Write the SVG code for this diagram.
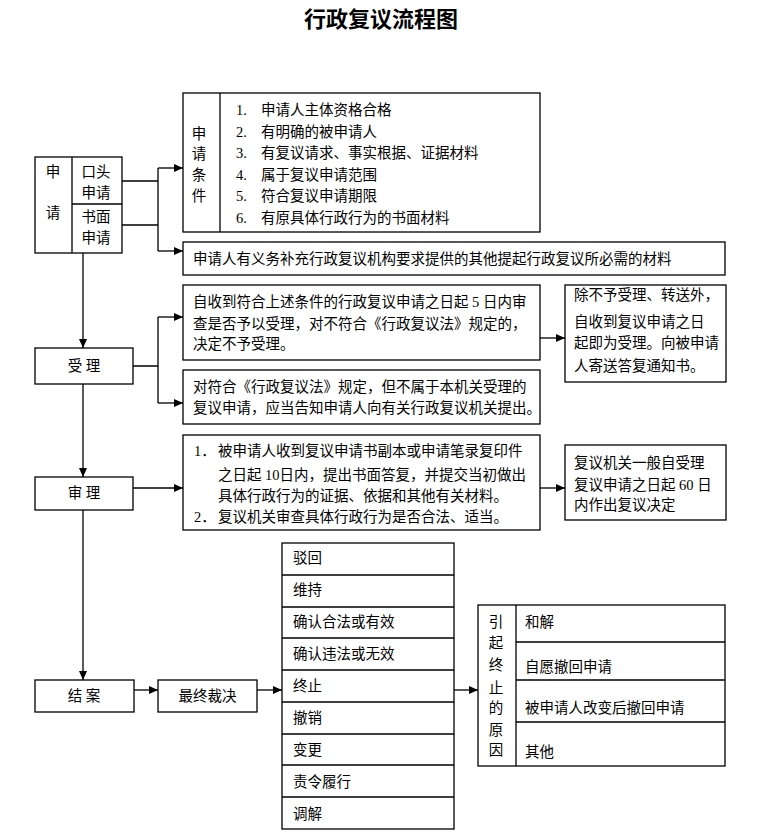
<svg xmlns="http://www.w3.org/2000/svg" width="780" height="832" viewBox="0 0 780 832">
<defs>
<marker id="ah" markerWidth="9" markerHeight="8" refX="9" refY="4" orient="auto" markerUnits="userSpaceOnUse"><path d="M0,0 L9,4 L0,8 z" fill="#000"/></marker>
<style>
rect,.ln{fill:#fff;stroke:#000;stroke-width:1.3}
.ln{fill:none}
.c{fill:none;stroke:#000;stroke-width:1.3}
.a{marker-end:url(#ah)}
text{font-family:"Liberation Serif","Noto Sans CJK SC",sans-serif;font-size:14.5px;fill:#000}
.m{text-anchor:middle}
.t{font-family:"Noto Sans CJK SC",sans-serif;font-size:22px;font-weight:bold}
</style>
</defs>
<text class="t m" x="381" y="27">行政复议流程图</text>

<g id="connectors">
<path class="c" d="M122,181 H158 M122,225 H158 M158,168 V251"/>
<path class="c a" d="M158,168 H183"/>
<path class="c a" d="M158,251 H183"/>
<path class="c a" d="M83,253 V348"/>
<path class="c" d="M133,366 H158 M158,317 V403"/>
<path class="c a" d="M158,317 H183"/>
<path class="c a" d="M158,403 H183"/>
<path class="c a" d="M540,338 H565"/>
<path class="c a" d="M83,384 V477"/>
<path class="c a" d="M133,488 H183"/>
<path class="c a" d="M540,488 H565"/>
<path class="c a" d="M83,510 V680"/>
<path class="c a" d="M134,690 H158"/>
<path class="c a" d="M257,690 H282"/>
<path class="c a" d="M454,690 H478"/>
</g>

<g id="apply">
<rect x="35" y="157" width="87" height="96"/>
<path class="ln" d="M72,157 V253 M72,204 H122"/>
<text class="m" x="53" y="177">申</text>
<text class="m" x="53" y="218">请</text>
<text class="m" x="96" y="177">口头</text>
<text class="m" x="96" y="198">申请</text>
<text class="m" x="96" y="222">书面</text>
<text class="m" x="96" y="243">申请</text>
</g>

<g id="conditions">
<rect x="183" y="93" width="357" height="139"/>
<path class="ln" d="M220,93 V232"/>
<text class="m" x="199" y="139">申</text>
<text class="m" x="199" y="159">请</text>
<text class="m" x="199" y="180">条</text>
<text class="m" x="199" y="201">件</text>
<text x="236" y="115">1.</text><text x="261" y="115">申请人主体资格合格</text>
<text x="236" y="136.5">2.</text><text x="261" y="136.5">有明确的被申请人</text>
<text x="236" y="158">3.</text><text x="261" y="158">有复议请求、事实根据、证据材料</text>
<text x="236" y="179.5">4.</text><text x="261" y="179.5">属于复议申请范围</text>
<text x="236" y="201">5.</text><text x="261" y="201">符合复议申请期限</text>
<text x="236" y="222.5">6.</text><text x="261" y="222.5">有原具体行政行为的书面材料</text>
</g>

<g id="supplement">
<rect x="183" y="242" width="542" height="33"/>
<text x="193" y="264">申请人有义务补充行政复议机构要求提供的其他提起行政复议所必需的材料</text>
</g>

<g id="accept">
<rect x="35" y="348" width="98" height="36"/>
<text class="m" x="84" y="371">受 理</text>
</g>

<g id="accept-review">
<rect x="183" y="285" width="357" height="75"/>
<text x="193" y="307">自收到符合上述条件的行政复议申请之日起 5 日内审</text>
<text x="193" y="329">查是否予以受理，对不符合《行政复议法》规定的，</text>
<text x="193" y="349">决定不予受理。</text>
</g>

<g id="accept-forward">
<rect x="183" y="370" width="357" height="54"/>
<text x="193" y="392">对符合《行政复议法》规定，但不属于本机关受理的</text>
<text x="193" y="413">复议申请，应当告知申请人向有关行政复议机关提出。</text>
</g>

<g id="accept-default">
<rect x="565" y="285" width="161" height="97"/>
<text x="574" y="300">除不予受理、转送外，</text>
<text x="574" y="327">自收到复议申请之日</text>
<text x="574" y="348">起即为受理。向被申请</text>
<text x="574" y="371">人寄送答复通知书。</text>
</g>

<g id="review">
<rect x="35" y="477" width="98" height="33"/>
<text class="m" x="84" y="498">审 理</text>
</g>

<g id="review-detail">
<rect x="183" y="435" width="357" height="95"/>
<text x="194" y="456">1．</text><text x="218" y="456">被申请人收到复议申请书副本或申请笔录复印件</text>
<text x="218" y="480">之日起 10日内，提出书面答复，并提交当初做出</text>
<text x="218" y="501">具体行政行为的证据、依据和其他有关材料。</text>
<text x="194" y="522">2．</text><text x="218" y="522">复议机关审查具体行政行为是否合法、适当。</text>
</g>

<g id="review-deadline">
<rect x="565" y="445" width="161" height="75"/>
<text x="574" y="468">复议机关一般自受理</text>
<text x="574" y="490">复议申请之日起 60 日</text>
<text x="574" y="510">内作出复议决定</text>
</g>

<g id="close">
<rect x="35" y="680" width="99" height="32"/>
<text class="m" x="84" y="701">结 案</text>
</g>

<g id="ruling">
<rect x="158" y="680" width="99" height="32"/>
<text class="m" x="207.5" y="701">最终裁决</text>
</g>

<g id="outcomes">
<rect x="282" y="543" width="172" height="286"/>
<path class="ln" d="M282,575 H454 M282,607 H454 M282,638 H454 M282,670 H454 M282,702 H454 M282,734 H454 M282,765 H454 M282,797 H454"/>
<text x="293" y="563">驳回</text>
<text x="293" y="595">维持</text>
<text x="293" y="627">确认合法或有效</text>
<text x="293" y="659">确认违法或无效</text>
<text x="293" y="691">终止</text>
<text x="293" y="723">撤销</text>
<text x="293" y="755">变更</text>
<text x="293" y="787">责令履行</text>
<text x="293" y="819">调解</text>
</g>

<g id="termination">
<rect x="478" y="605" width="247" height="161"/>
<path class="ln" d="M516,605 V766 M516,642 H725 M516,680 H725 M516,722 H725"/>
<text class="m" x="496" y="627">引</text>
<text class="m" x="496" y="648">起</text>
<text class="m" x="496" y="670">终</text>
<text class="m" x="496" y="693">止</text>
<text class="m" x="496" y="713">的</text>
<text class="m" x="496" y="735">原</text>
<text class="m" x="496" y="755">因</text>
<text x="525" y="627">和解</text>
<text x="525" y="672">自愿撤回申请</text>
<text x="525" y="713">被申请人改变后撤回申请</text>
<text x="525" y="757">其他</text>
</g>
</svg>
